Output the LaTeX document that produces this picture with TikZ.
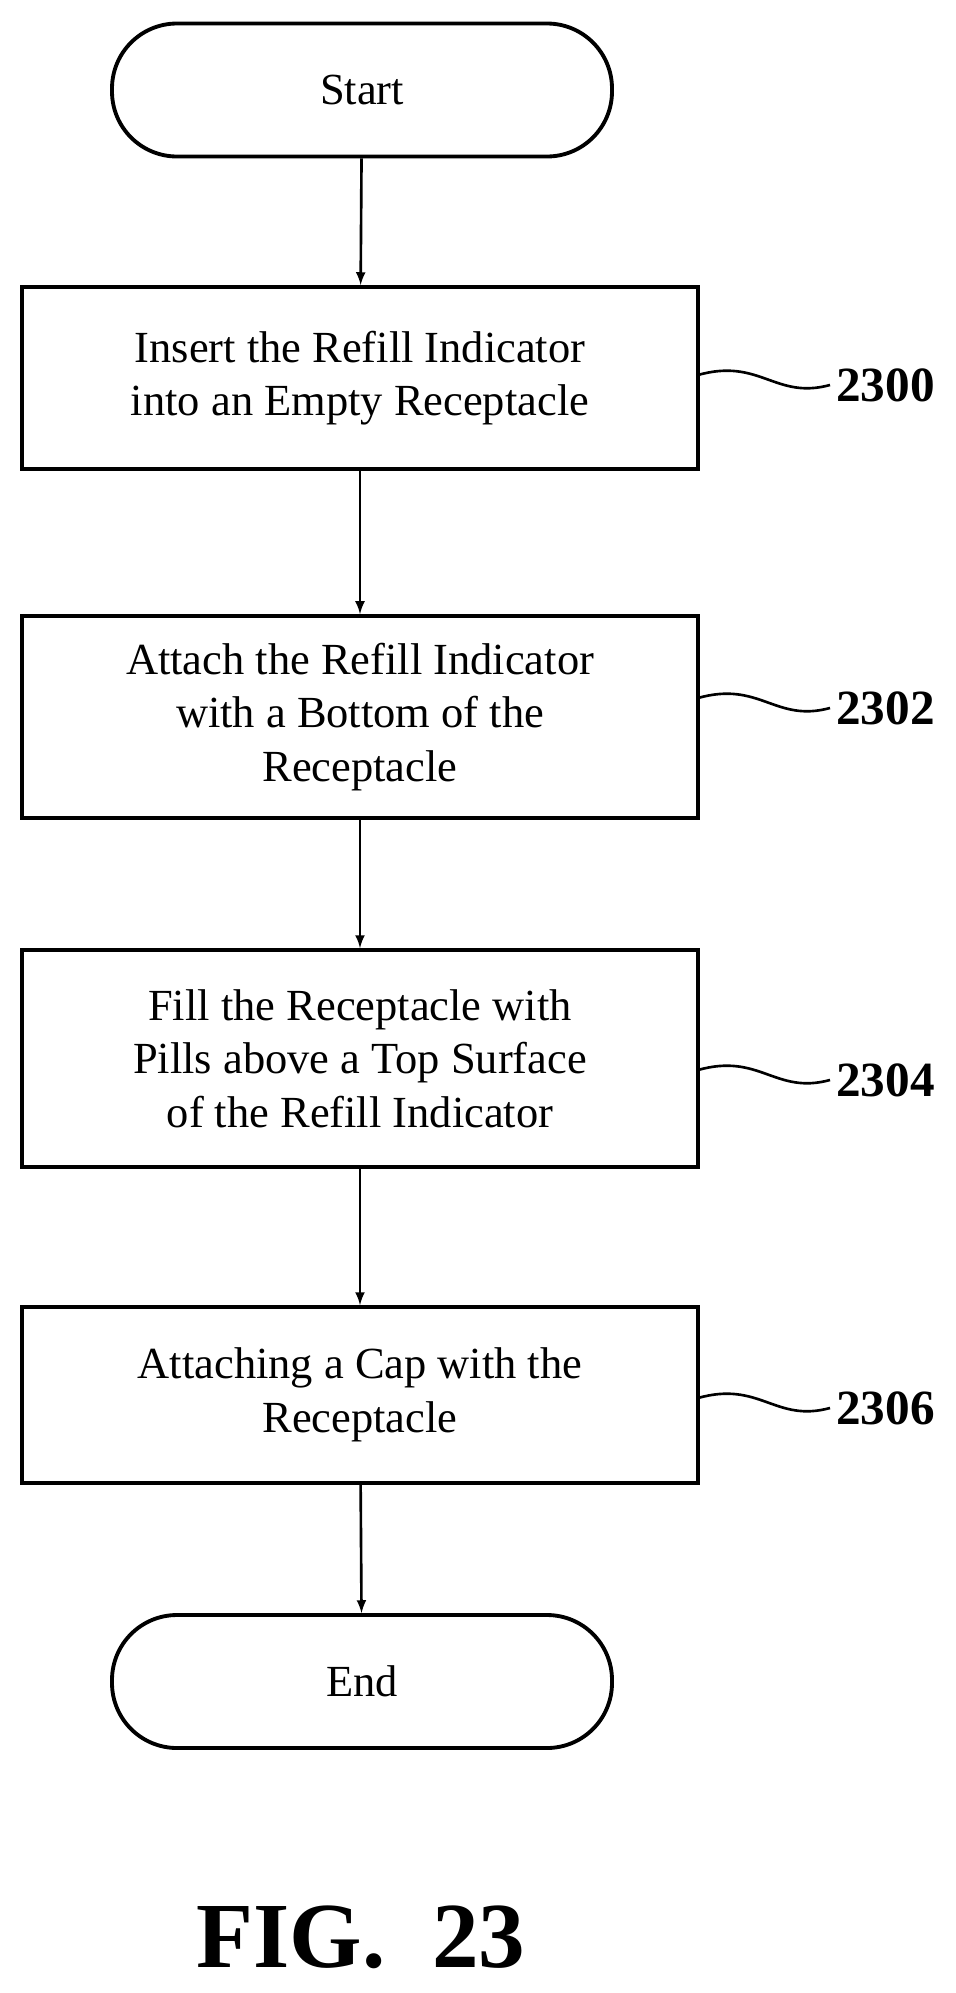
\documentclass[tikz,border=0pt]{standalone}
\usepackage{fontspec}
\setmainfont{Liberation Serif}
\usetikzlibrary{positioning}
\begin{document}
\begin{tikzpicture}[x=1cm,y=1cm,
  proc/.style={draw,line width=2.2pt,minimum width=13.52cm,align=center,font=\fontsize{25.3}{30.5}\selectfont},
  term/.style={draw,line width=2.2pt,minimum width=10cm,minimum height=2.66cm,rounded corners=1.3cm,font=\fontsize{25.3}{30.5}\selectfont},
  flow/.style={line width=1.5pt,-latex},
  tag/.style={font=\fontsize{28}{32}\bfseries\selectfont,anchor=west}]
\useasboundingbox (0,0) rectangle (19.12,-39.86);
\node[term] (start) at (7.24,-1.8) {Start};
\node[proc,minimum height=3.64cm] (s2300) at (7.2,-7.56) {Insert the Refill Indicator\\into an Empty Receptacle};
\node[proc,minimum height=4.04cm] (s2302) at (7.2,-14.34) {Attach the Refill Indicator\\with a Bottom of the\\Receptacle};
\node[proc,minimum height=4.34cm] (s2304) at (7.2,-21.17) {Fill the Receptacle with\\Pills above a Top Surface\\of the Refill Indicator};
\node[proc,minimum height=3.52cm] (s2306) at (7.2,-27.9) {Attaching a Cap with the\\Receptacle};
\node[term] (end) at (7.24,-33.63) {End};
\draw[flow] (start) -- (s2300);
\draw[flow] (s2300) -- (s2302);
\draw[flow] (s2302) -- (s2304);
\draw[flow] (s2304) -- (s2306);
\draw[flow] (s2306) -- (end);
% reference numerals
\foreach \n/\y in {2300/-7.7,2302/-14.16,2304/-21.6,2306/-28.16}{
  \node[tag] (l\n) at (16.6,\y) {\n};
  \coordinate (c\n) at (13.96,\y+0.2);
  \draw[line width=1.5pt] (c\n) .. controls (15.2,\y+0.55) and (15.5,\y-0.3) .. (l\n.west);
}
\node[font=\fontsize{53}{56}\bfseries\selectfont] (fig) at (7.22,-38.75) {FIG.~~23};
\end{tikzpicture}
\end{document}
